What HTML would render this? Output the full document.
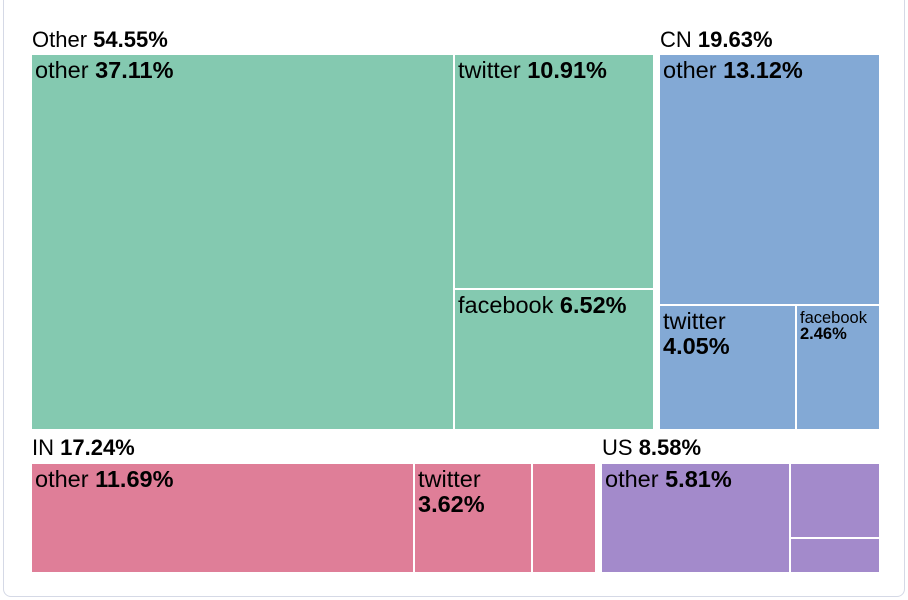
<!DOCTYPE html>
<html><head><style>
body{margin:0;width:908px;height:600px;background:#fff;font-family:"Liberation Sans",Arial,sans-serif;position:relative;overflow:hidden}
.card{position:absolute;left:3px;top:-10px;width:900px;height:605px;border:1.5px solid #d5d9e6;border-radius:8px}
.r{position:absolute;box-sizing:border-box;color:#000;font-size:23.5px;line-height:25px;padding:3px 0 0 3px;white-space:nowrap;overflow:hidden}
.g{position:absolute;font-size:22px;line-height:22px;white-space:nowrap}
b{font-weight:bold}
.G{background:#84c9b0}.B{background:#83a9d5}.P{background:#df7e98}.U{background:#a38acb}
</style></head><body>
<div class="card"></div>
<div class="g" style="left:32px;top:29px">Other <b>54.55%</b></div>
<div class="r G" style="left:32px;top:55px;width:421px;height:374px">other <b>37.11%</b></div>
<div class="r G" style="left:455px;top:55px;width:198px;height:233px">twitter <b>10.91%</b></div>
<div class="r G" style="left:455px;top:290px;width:198px;height:139px">facebook <b>6.52%</b></div>
<div class="g" style="left:660px;top:29px">CN <b>19.63%</b></div>
<div class="r B" style="left:660px;top:55px;width:219px;height:249px">other <b>13.12%</b></div>
<div class="r B" style="left:660px;top:306px;width:135px;height:123px">twitter<br><b>4.05%</b></div>
<div class="r B" style="left:797px;top:306px;width:82px;height:123px;font-size:16.5px;line-height:16px;padding-top:4px">facebook<br><b>2.46%</b></div>
<div class="g" style="left:32px;top:437px">IN <b>17.24%</b></div>
<div class="r P" style="left:32px;top:464px;width:381px;height:108px">other <b>11.69%</b></div>
<div class="r P" style="left:415px;top:464px;width:116px;height:108px">twitter<br><b>3.62%</b></div>
<div class="r P" style="left:533px;top:464px;width:62px;height:108px"></div>
<div class="g" style="left:602px;top:437px">US <b>8.58%</b></div>
<div class="r U" style="left:602px;top:464px;width:187px;height:108px">other <b>5.81%</b></div>
<div class="r U" style="left:791px;top:464px;width:88px;height:73px"></div>
<div class="r U" style="left:791px;top:539px;width:88px;height:33px"></div>
</body></html>
